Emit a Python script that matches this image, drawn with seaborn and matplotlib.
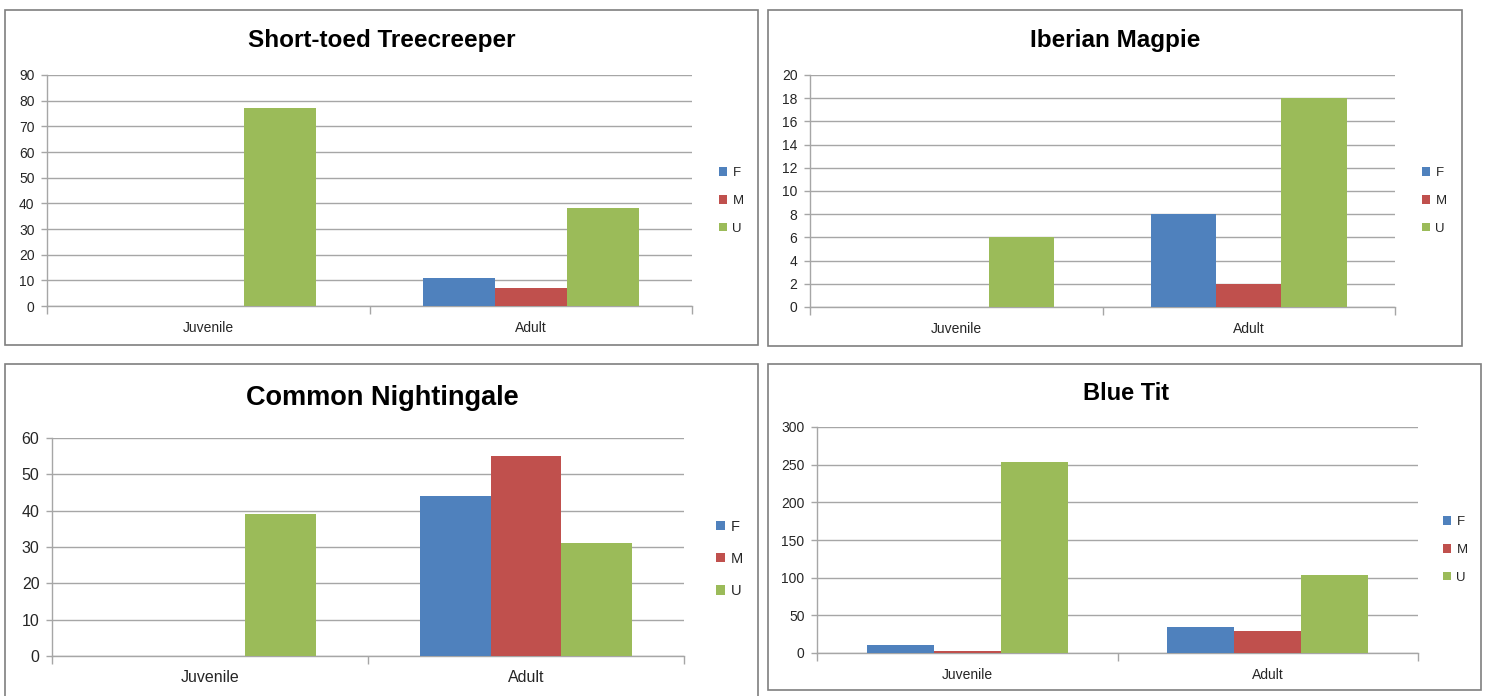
import matplotlib
matplotlib.use("Agg")
import matplotlib.pyplot as plt
import seaborn as sns
import pandas as pd
from matplotlib.patches import Rectangle
from matplotlib.ticker import FixedLocator

# Ringing counts by age class and sex for four species
ages = ["Juvenile", "Adult"]
sexes = ["F", "M", "U"]
sex_colors = ["#4F81BD", "#C0504D", "#9BBB59"]

treecreeper_f = [0, 11]
treecreeper_m = [0, 7]
treecreeper_u = [77, 38]

magpie_f = [0, 8]
magpie_m = [0, 2]
magpie_u = [6, 18]

nightingale_f = [0, 44]
nightingale_m = [0, 55]
nightingale_u = [39, 31]

bluetit_f = [10, 35]
bluetit_m = [2, 29]
bluetit_u = [253, 104]

species = ["Short-toed Treecreeper", "Iberian Magpie", "Common Nightingale", "Blue Tit"]
y_max = [90, 20, 60, 300]
y_step = [10, 2, 10, 50]

W, H = 1488, 696

sns.set_style("white")
plt.rcParams["font.family"] = ["Liberation Sans", "DejaVu Sans"]

fig = plt.figure(figsize=(W / 100, H / 100), dpi=100)


def fx(x):
    return x / W


def fy(y):
    return 1 - y / H


# pixel layout per panel: frame box, plot box, title centre, legend anchor, font sizes
layouts = [
    dict(frame=(5, 10, 758, 345), plot=(47, 75, 692, 306), title=(382, 40), tsize=17.5,
         legend=(714, 201), lsize=9.5, lspace=1.2, tick=10, pad=11),
    dict(frame=(768, 10, 1462, 346), plot=(810, 75, 1395, 307), title=(1115, 40), tsize=17.5,
         legend=(1417, 201), lsize=9.5, lspace=1.2, tick=10, pad=11),
    dict(frame=(5, 364, 758, 720), plot=(52, 438, 684, 656), title=(382, 398), tsize=19.5,
         legend=(710, 559), lsize=10.5, lspace=1.25, tick=11.5, pad=10),
    dict(frame=(768, 364, 1481, 690), plot=(817, 427, 1418, 653), title=(1126, 393), tsize=17,
         legend=(1438, 550), lsize=9.5, lspace=1.2, tick=10, pad=11),
]

series = [
    (treecreeper_f, treecreeper_m, treecreeper_u),
    (magpie_f, magpie_m, magpie_u),
    (nightingale_f, nightingale_m, nightingale_u),
    (bluetit_f, bluetit_m, bluetit_u),
]

grid_color = "#A6A6A6"
text_color = "#262626"

for name, (f_vals, m_vals, u_vals), ymax, ystep, lay in zip(species, series, y_max, y_step, layouts):
    # outer frame of the chart
    x0, y0, x1, y1 = lay["frame"]
    fig.patches.append(Rectangle((fx(x0), fy(y1)), fx(x1 - x0), (y1 - y0) / H,
                                 transform=fig.transFigure, fill=False,
                                 edgecolor="#7F7F7F", linewidth=1.2, zorder=0))

    px0, py0, px1, py1 = lay["plot"]
    ax = fig.add_axes([fx(px0), fy(py1), fx(px1 - px0), (py1 - py0) / H])

    df = pd.DataFrame({
        "age": ages * 3,
        "sex": [s for s in sexes for _ in ages],
        "count": list(f_vals) + list(m_vals) + list(u_vals),
    })
    sns.barplot(data=df, x="age", y="count", hue="sex", order=ages, hue_order=sexes,
                palette=sex_colors, width=0.67, linewidth=0, saturation=1,
                errorbar=None, ax=ax, zorder=3)

    ax.set_xlim(-0.5, 1.5)
    ax.set_ylim(0, ymax)
    ax.set_xlabel("")
    ax.set_ylabel("")

    yt = list(range(0, ymax + 1, ystep))
    ax.set_yticks(yt)
    ax.set_yticklabels([str(v) for v in yt])
    ax.yaxis.grid(True, color=grid_color, linewidth=1.0, zorder=0)
    ax.set_axisbelow(True)

    ax.xaxis.set_major_locator(FixedLocator([-0.5, 0.5, 1.5]))
    ax.xaxis.set_minor_locator(FixedLocator([0, 1]))
    ax.set_xticklabels(["", "", ""])
    ax.set_xticklabels(ages, minor=True)
    ax.tick_params(axis="x", which="major", direction="out", length=6, width=1,
                   color=grid_color, bottom=True)
    ax.tick_params(axis="x", which="minor", length=0, pad=lay["pad"],
                   labelsize=lay["tick"], labelcolor=text_color)
    ax.tick_params(axis="y", direction="out", length=4, width=1, color=grid_color,
                   left=True, pad=5, labelsize=lay["tick"], labelcolor=text_color)

    for side in ("top", "right"):
        ax.spines[side].set_visible(False)
    for side in ("left", "bottom"):
        ax.spines[side].set_color(grid_color)
        ax.spines[side].set_linewidth(1.0)

    handles, labels = ax.get_legend_handles_labels()
    ax.get_legend().remove()
    lx, ly = lay["legend"]
    fig.legend(handles, labels, loc="center left", bbox_to_anchor=(fx(lx), fy(ly)),
               bbox_transform=fig.transFigure, frameon=False, fontsize=lay["lsize"],
               handlelength=0.6, handleheight=0.6, handletextpad=0.4,
               labelspacing=lay["lspace"], labelcolor=text_color, borderaxespad=0)

    tx, ty = lay["title"]
    fig.text(fx(tx), fy(ty), name, ha="center", va="center", fontsize=lay["tsize"],
             fontweight="bold", color="black")

fig.savefig("out.png", dpi=100, facecolor="white")
